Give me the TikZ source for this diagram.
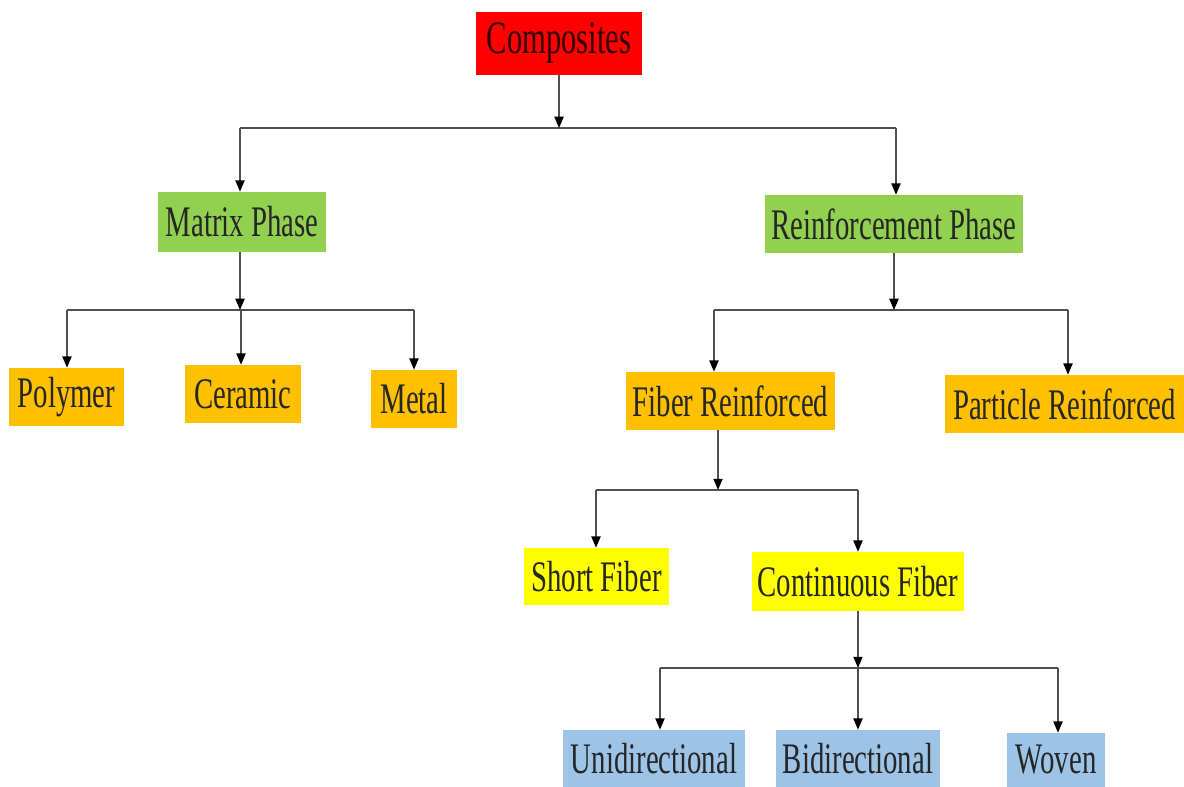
\documentclass[tikz,border=0pt]{standalone}
\usepackage{fontspec}
\setmainfont{Liberation Serif}[FakeStretch=0.66]
\usetikzlibrary{arrows.meta}
\definecolor{compred}{HTML}{FF0000}
\definecolor{phasegreen}{HTML}{92D050}
\definecolor{kindorange}{HTML}{FFC000}
\definecolor{fibyellow}{HTML}{FFFF00}
\definecolor{weaveblue}{HTML}{9DC3E6}
\definecolor{linkgray}{HTML}{505050}
\tikzset{
  box/.style={inner sep=0pt, text=black!85, font=\fontsize{31}{36}\selectfont},
  link/.style={draw=linkgray, line width=1.1pt},
  arr/.style={link, -{Triangle[length=8pt,width=6.5pt,color=black]}}
}

\begin{document}
\begin{tikzpicture}[x=0.025cm,y=-0.025cm]
  \useasboundingbox (0,0) rectangle (1184,787);
  % boxes
  \node[box, fill=compred, minimum width=4.15cm, minimum height=1.575cm, font=\fontsize{33}{38}\selectfont, text=black!80!red] (comp) at (559,43.5) {Composites};
  \node[box, fill=phasegreen, minimum width=4.2cm, minimum height=1.5cm] (matrix) at (242,222) {Matrix Phase};
  \node[box, fill=phasegreen, minimum width=6.45cm, minimum height=1.45cm] (reinf) at (894,224) {Reinforcement Phase};
  \node[box, fill=kindorange, minimum width=2.875cm, minimum height=1.45cm] (poly) at (66.5,397) {Polymer};
  \node[box, fill=kindorange, minimum width=2.9cm, minimum height=1.45cm] (cera) at (243,394) {Ceramic};
  \node[box, fill=kindorange, minimum width=2.15cm, minimum height=1.45cm] (metal) at (414,399) {Metal};
  \node[box, fill=kindorange, minimum width=5.225cm, minimum height=1.45cm] (fiber) at (730.5,401) {Fiber Reinforced};
  \node[box, fill=kindorange, minimum width=5.975cm, minimum height=1.45cm] (part) at (1064.5,404) {Particle Reinforced};
  \node[box, fill=fibyellow, minimum width=3.625cm, minimum height=1.425cm] (short) at (596.5,576.5) {Short Fiber};
  \node[box, fill=fibyellow, minimum width=5.3cm, minimum height=1.475cm] (cont) at (858,581.5) {Continuous Fiber};
  \node[box, fill=weaveblue, minimum width=4.55cm, minimum height=1.425cm] (uni) at (654,758.5) {Unidirectional};
  \node[box, fill=weaveblue, minimum width=4.1cm, minimum height=1.425cm] (bi) at (858,758.5) {Bidirectional};
  \node[box, fill=weaveblue, minimum width=2.45cm, minimum height=1.35cm] (woven) at (1056,760) {Woven};
  % bars
  \coordinate (j0) at (559,128);
  \coordinate (b0l) at (240,128);
  \coordinate (b0r) at (896,128);
  \coordinate (j1) at (240,310);
  \coordinate (b1l) at (67,310);
  \coordinate (b1m) at (241,310);
  \coordinate (b1r) at (414,310);
  \coordinate (j2) at (894,310);
  \coordinate (b2l) at (714,310);
  \coordinate (b2r) at (1068,310);
  \coordinate (j3) at (718,490);
  \coordinate (b3l) at (596,490);
  \coordinate (b3r) at (858,490);
  \coordinate (j4) at (858,668);
  \coordinate (b4l) at (660,668);
  \coordinate (b4r) at (1058,668);
  \draw[link] (b0l) -- (b0r);
  \draw[link] (b1l) -- (b1r);
  \draw[link] (b2l) -- (b2r);
  \draw[link] (b3l) -- (b3r);
  \draw[link] (b4l) -- (b4r);
  % arrows
  \draw[arr] (j0 |- comp.south) -- (j0);
  \draw[arr] (b0l) -- (b0l |- matrix.north);
  \draw[arr] (b0r) -- (b0r |- reinf.north);
  \draw[arr] (j1 |- matrix.south) -- (j1);
  \draw[arr] (b1l) -- (b1l |- poly.north);
  \draw[arr] (b1m) -- (b1m |- cera.north);
  \draw[arr] (b1r) -- (b1r |- metal.north);
  \draw[arr] (j2 |- reinf.south) -- (j2);
  \draw[arr] (b2l) -- (b2l |- fiber.north);
  \draw[arr] (b2r) -- (b2r |- part.north);
  \draw[arr] (j3 |- fiber.south) -- (j3);
  \draw[arr] (b3l) -- (b3l |- short.north);
  \draw[arr] (b3r) -- (b3r |- cont.north);
  \draw[arr] (j4 |- cont.south) -- (j4);
  \draw[arr] (b4l) -- (b4l |- uni.north);
  \draw[arr] (j4) -- (j4 |- bi.north);
  \draw[arr] (b4r) -- (b4r |- woven.north);
\end{tikzpicture}
\end{document}
